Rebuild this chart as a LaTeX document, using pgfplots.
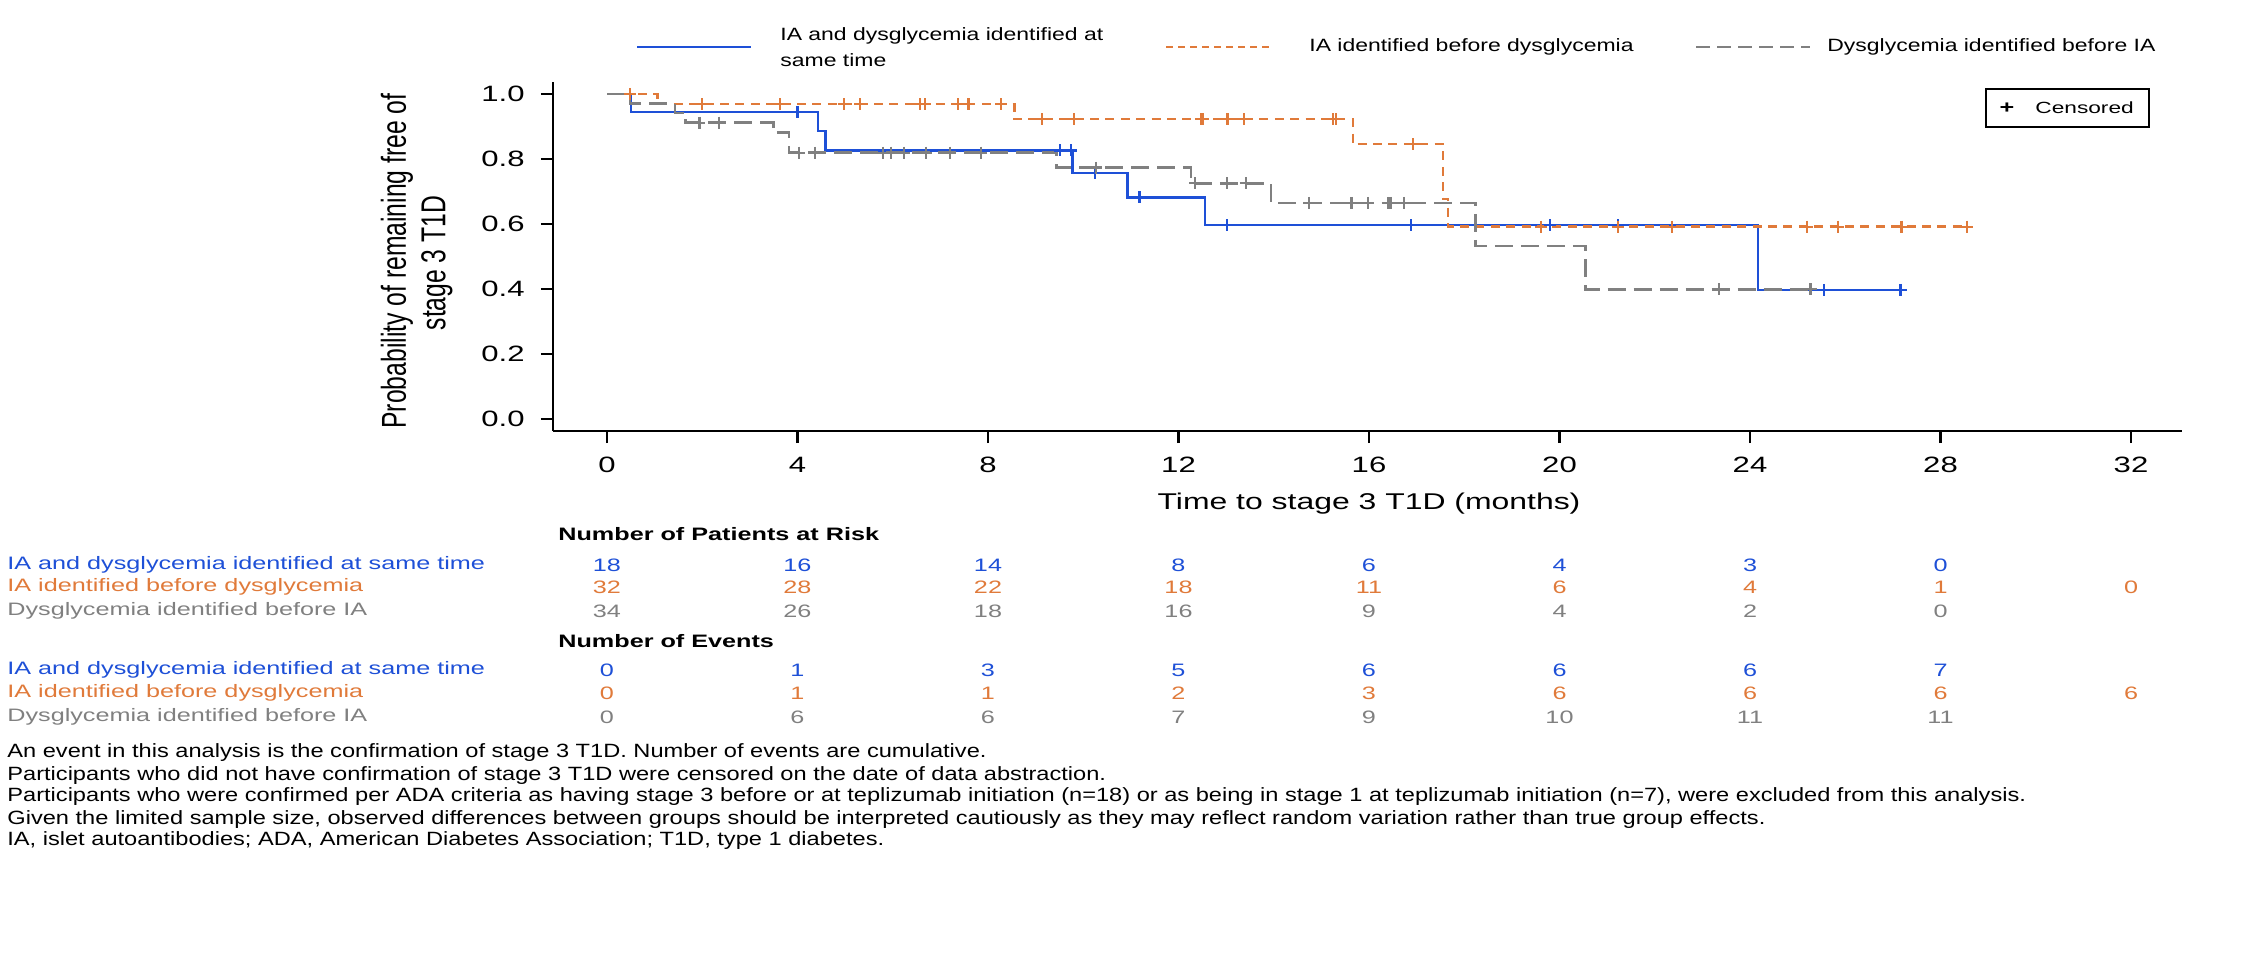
\documentclass[border=0pt]{standalone}
\usepackage{pgfplots}
\pgfplotsset{compat=1.18}
\usepackage{graphicx}
\usepackage{fontspec}
\setmainfont{Liberation Sans}

\definecolor{kmblue}{RGB}{30,80,215}
\definecolor{kmorange}{RGB}{224,122,58}
\definecolor{kmgray}{RGB}{128,128,128}

% horizontally widened text, as in the figure's typesetting
\newcommand{\sx}[1]{\scalebox{1.4}[1]{#1}}
\newcommand{\sxl}[1]{\scalebox{1.29}[1]{#1}}
\newcommand{\sxf}[1]{\scalebox{1.23}[1]{#1}}
\newcommand{\fs}[1]{\fontsize{#1}{#1}\selectfont}

\tikzset{
  blueline/.style={kmblue, line width=1.2pt},
  orangeline/.style={kmorange, line width=1.3pt, dash pattern=on 4.5pt off 3.2pt},
  grayline/.style={kmgray, line width=1.3pt, dash pattern=on 9pt off 4pt},
}

\begin{document}
\begin{tikzpicture}
\path[use as bounding box] (-276.5pt,-272.5pt) rectangle (845.5pt,215.5pt);

\begin{axis}[
  at={(0pt,0pt)}, anchor=south west,
  scale only axis, width=814.5pt, height=174.5pt,
  xmin=-1.134, xmax=33.07, ymin=-0.0369, ymax=1.0369,
  axis x line*=bottom, axis y line*=left,
  axis line style={line width=1.3pt, -},
  xtick={0,4,...,32}, ytick={0,0.2,0.4,0.6,0.8,1.0},
  xticklabels={}, yticklabels={},
  tick align=outside, major tick length=6pt,
  tick style={black, line width=1.2pt},
  clip=false,
]
% Kaplan-Meier step curves
\addplot[blueline, const plot mark left] coordinates {
  (0,1) (0.50,0.9444) (4.43,0.8854) (4.59,0.8264) (9.77,0.7576)
  (10.93,0.6818) (12.56,0.5966) (24.17,0.3977) (27.16,0.3977)};
\addplot[orangeline, const plot mark left] coordinates {
  (0,1) (1.06,0.9688) (8.55,0.9226) (15.66,0.8457) (17.55,0.6766)
  (17.66,0.5920) (28.56,0.5920)};
\addplot[grayline, const plot mark left] coordinates {
  (0,1) (0.48,0.9706) (1.43,0.9412) (1.65,0.9118) (3.49,0.8824)
  (3.82,0.8193) (9.44,0.7738) (12.26,0.7254) (13.94,0.6650)
  (18.23,0.5320) (20.55,0.3990) (25.27,0.3990)};

% censored observations
\addplot[kmblue, only marks, mark=+, mark size=3pt, mark options={line width=1.1pt, solid}] coordinates {
  (4.00,0.9444) (9.51,0.8264) (9.75,0.8264) (10.24,0.7576) (11.18,0.6818)
  (13.02,0.5966) (16.88,0.5966) (19.80,0.5966) (21.22,0.5966)
  (25.55,0.3977) (27.16,0.3977)};
\addplot[kmorange, only marks, mark=+, mark size=3pt, mark options={line width=1.1pt, solid}] coordinates {
  (0.48,1) (1.99,0.9688) (3.63,0.9688) (4.97,0.9688) (5.32,0.9688)
  (6.57,0.9688) (6.67,0.9688) (7.37,0.9688) (7.59,0.9688) (8.28,0.9688)
  (9.14,0.9226) (9.80,0.9226) (12.47,0.9226) (12.52,0.9226) (13.03,0.9226)
  (13.38,0.9226) (15.24,0.9226) (15.30,0.9226) (16.93,0.8457)
  (19.61,0.5920) (21.22,0.5920) (22.36,0.5920) (25.20,0.5920)
  (25.85,0.5920) (27.18,0.5920) (28.56,0.5920)};
\addplot[kmgray, only marks, mark=+, mark size=3pt, mark options={line width=1.1pt, solid}] coordinates {
  (1.94,0.9118) (2.35,0.9118) (4.03,0.8193) (4.36,0.8193) (5.79,0.8193)
  (5.97,0.8193) (6.24,0.8193) (6.69,0.8193) (7.21,0.8193) (7.86,0.8193)
  (10.26,0.7738) (12.35,0.7254) (13.01,0.7254) (13.41,0.7254)
  (14.74,0.6650) (15.63,0.6650) (15.98,0.6650) (16.39,0.6650)
  (16.45,0.6650) (16.74,0.6650) (23.35,0.3990) (25.27,0.3990)};
\end{axis}

% tick labels
\foreach \m in {0,4,...,32} {
  \pgfmathsetmacro\xx{27+23.8125*\m}
  \node[font=\fs{11.1}] at (\xx pt,-17pt) {\sx{\m}};
}
\foreach \v/\t in {0/0.0,0.2/0.2,0.4/0.4,0.6/0.6,0.8/0.8,1/1.0} {
  \pgfmathsetmacro\yy{6+162.5*\v}
  \node[anchor=east, font=\fs{11.1}, inner sep=0pt] at (-14pt,\yy pt) {\sx{\t}};
}

% axis titles
\node[font=\fs{11.4}] at (408pt,-36.5pt) {\sx{Time to stage 3 T1D (months)}};
\node[rotate=90, font=\fs{12.35}] at (-78pt,85pt) {\scalebox{1}[1.4]{Probability of remaining free of}};
\node[rotate=90, font=\fs{12.35}] at (-58pt,84pt) {\scalebox{1}[1.4]{stage 3 T1D}};

% legend
\draw[blueline] (42pt,192pt) -- (99pt,192pt);
\node[anchor=west, font=\fs{8.9}, inner sep=0pt] at (113.5pt,197.5pt) {\sxl{IA and dysglycemia identified at}};
\node[anchor=west, font=\fs{8.9}, inner sep=0pt] at (113.5pt,185.5pt) {\sxl{same time}};
\draw[kmorange, line width=1.2pt, dash pattern=on 3.5pt off 2.5pt] (306.5pt,192pt) -- (360.5pt,192pt);
\node[anchor=west, font=\fs{8.9}, inner sep=0pt] at (378pt,192pt) {\sxl{IA identified before dysglycemia}};
\draw[kmgray, line width=1.2pt, dash pattern=on 7pt off 3.5pt] (571.5pt,192pt) -- (628.5pt,192pt);
\node[anchor=west, font=\fs{8.9}, inner sep=0pt] at (637pt,192pt) {\sxl{Dysglycemia identified before IA}};

% censoring key
\draw[line width=1.2pt] (716.5pt,152pt) rectangle (798pt,171pt);
\node[font=\bfseries\fs{9}] at (727pt,161.5pt) {\sx{+}};
\node[anchor=west, font=\fs{8.1}, inner sep=0pt] at (741pt,161.5pt) {\sx{Censored}};

% risk table
\node[anchor=west, font=\bfseries\fs{9}, inner sep=0pt] at (2.5pt,-51.5pt) {\sx{Number of Patients at Risk}};
\node[anchor=west, font=\bfseries\fs{9}, inner sep=0pt] at (2.5pt,-105pt) {\sx{Number of Events}};

\begin{scope}[every node/.style={font=\fs{9}, inner sep=0pt}]
\node[anchor=west, kmblue]   at (-273pt,-67pt)    {\sx{IA and dysglycemia identified at same time}};
\node[anchor=west, kmorange] at (-273pt,-78pt)    {\sx{IA identified before dysglycemia}};
\node[anchor=west, kmgray]   at (-273pt,-90pt)    {\sx{Dysglycemia identified before IA}};
\node[anchor=west, kmblue]   at (-273pt,-119.5pt) {\sx{IA and dysglycemia identified at same time}};
\node[anchor=west, kmorange] at (-273pt,-131pt)   {\sx{IA identified before dysglycemia}};
\node[anchor=west, kmgray]   at (-273pt,-143pt)   {\sx{Dysglycemia identified before IA}};

\foreach \n [count=\k from 0] in {18,16,14,8,6,4,3,0}
  {\pgfmathsetmacro\xx{27+95.25*\k}\node[kmblue] at (\xx pt,-67pt) {\sx{\n}};}
\foreach \n [count=\k from 0] in {32,28,22,18,11,6,4,1,0}
  {\pgfmathsetmacro\xx{27+95.25*\k}\node[kmorange] at (\xx pt,-78pt) {\sx{\n}};}
\foreach \n [count=\k from 0] in {34,26,18,16,9,4,2,0}
  {\pgfmathsetmacro\xx{27+95.25*\k}\node[kmgray] at (\xx pt,-90pt) {\sx{\n}};}
\foreach \n [count=\k from 0] in {0,1,3,5,6,6,6,7}
  {\pgfmathsetmacro\xx{27+95.25*\k}\node[kmblue] at (\xx pt,-119.5pt) {\sx{\n}};}
\foreach \n [count=\k from 0] in {0,1,1,2,3,6,6,6,6}
  {\pgfmathsetmacro\xx{27+95.25*\k}\node[kmorange] at (\xx pt,-131pt) {\sx{\n}};}
\foreach \n [count=\k from 0] in {0,6,6,7,9,10,11,11}
  {\pgfmathsetmacro\xx{27+95.25*\k}\node[kmgray] at (\xx pt,-143pt) {\sx{\n}};}
\end{scope}

% footnotes
\begin{scope}[every node/.style={anchor=west, font=\fs{9.6}, inner sep=0pt}]
\node at (-273pt,-161pt)   {\sxf{An event in this analysis is the confirmation of stage 3 T1D. Number of events are cumulative.}};
\node at (-273pt,-172.5pt) {\sxf{Participants who did not have confirmation of stage 3 T1D were censored on the date of data abstraction.}};
\node at (-273pt,-183pt)   {\sxf{Participants who were confirmed per ADA criteria as having stage 3 before or at teplizumab initiation (n=18) or as being in stage 1 at teplizumab initiation (n=7), were excluded from this analysis.}};
\node at (-273pt,-194.5pt) {\sxf{Given the limited sample size, observed differences between groups should be interpreted cautiously as they may reflect random variation rather than true group effects.}};
\node at (-273pt,-205pt)   {\sxf{IA, islet autoantibodies; ADA, American Diabetes Association; T1D, type 1 diabetes.}};
\end{scope}
\end{tikzpicture}
\end{document}
